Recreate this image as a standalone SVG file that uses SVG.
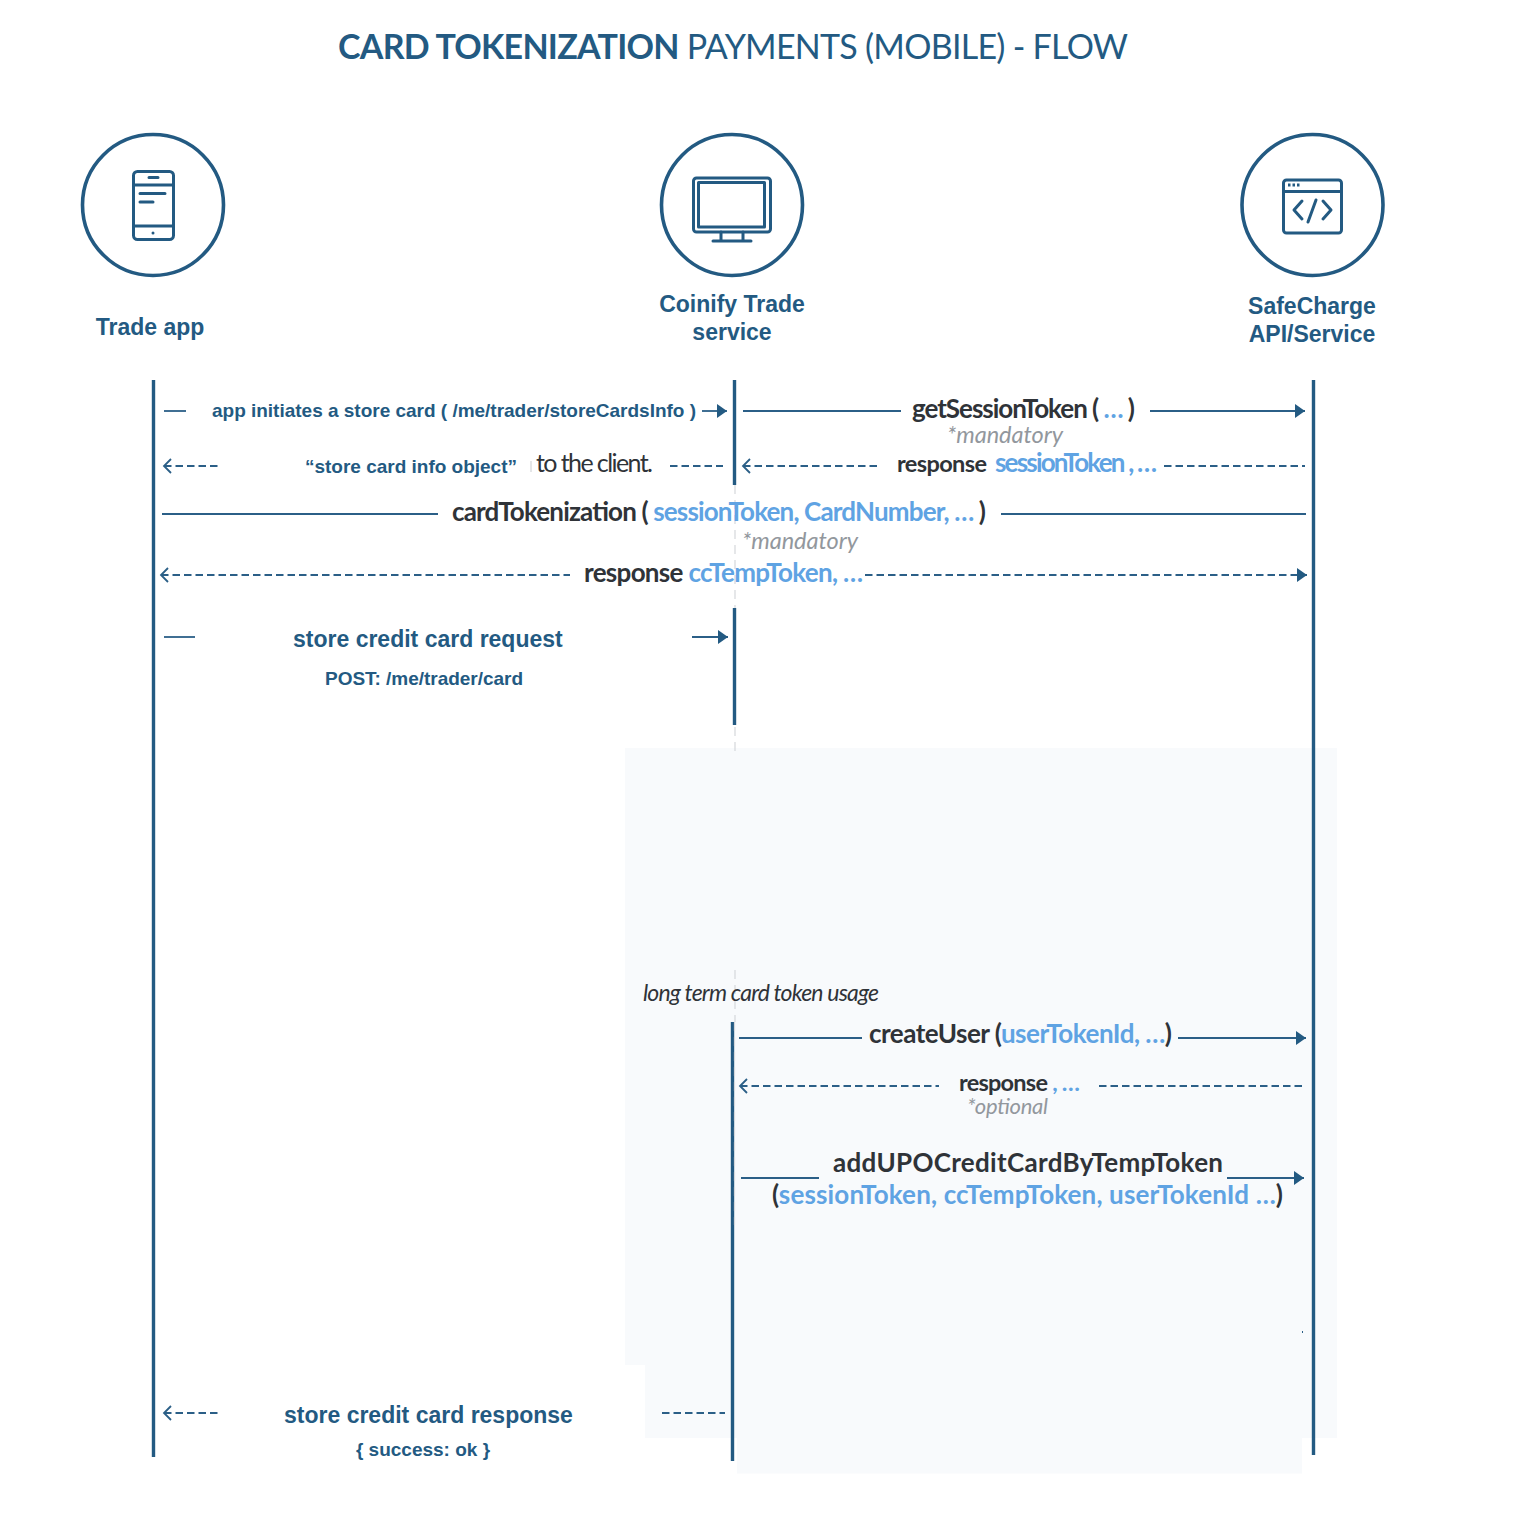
<svg xmlns="http://www.w3.org/2000/svg" width="1534" height="1514" viewBox="0 0 1534 1514">
<style>
.ll{stroke:#235a82;stroke-width:3.4;fill:none}
.gd{stroke:#d5d8db;stroke-width:1.2;stroke-dasharray:9 6;fill:none}
.s{stroke:#2b5f87;stroke-width:1.8;fill:none}
.d{stroke:#2b5f87;stroke-width:1.8;fill:none;stroke-dasharray:7.500 4}
.i{stroke:#235a82;stroke-width:3;fill:none;stroke-linecap:round;stroke-linejoin:round}
.c{stroke:#235a82;stroke-width:3.600;fill:#fff}
.h{font-family:"Liberation Sans",Arial,sans-serif;font-weight:700;fill:#235a82}
.l{font-family:Lato,sans-serif;fill:#2f3338;font-weight:700;font-size:26px}
.b{fill:#5fa3e3}
.m{font-family:Lato,sans-serif;font-style:italic;fill:#92979d;font-size:23.500px}
</style>
<defs>
<marker id="fa" markerUnits="userSpaceOnUse" markerWidth="12" markerHeight="16" refX="10" refY="7" orient="auto"><path d="M0 0L10 7L0 14Z" fill="#235a82"/></marker>
<marker id="oa" markerUnits="userSpaceOnUse" markerWidth="14" markerHeight="18" refX="2" refY="8" orient="auto"><path d="M9 1L2 8L9 15" fill="none" stroke="#2b5f87" stroke-width="1.8"/></marker>
</defs>
<rect width="1534" height="1514" fill="#fff"/>
<g id="background">
<path d="M625 748H1337V1438H1302V1473.500H737V1438H645V1365H625Z" fill="#f8fafc"/>
</g>
<text id="title" x="338" y="59" font-family="Lato,sans-serif" font-size="34" fill="#235a82" textLength="790"><tspan font-weight="700">CARD TOKENIZATION</tspan> PAYMENTS (MOBILE) - FLOW</text>

<g id="node-trade-app">
<circle class="c" cx="153" cy="205" r="70.500"/>
<rect class="i" x="133.500" y="171.500" width="40" height="68" rx="4"/>
<path class="i" d="M134 185H173M134 226H173M149 177.500H158M140 193.500H165M140 202H153"/>
<circle cx="153" cy="233" r="1.500" fill="#235a82"/>
<text class="h" x="150" y="334.500" font-size="23" text-anchor="middle">Trade app</text>
<line class="ll" x1="153.500" y1="380" x2="153.500" y2="1457"/>
</g>
<g id="node-coinify">
<circle class="c" cx="732" cy="205" r="70.500"/>
<rect class="i" x="693.500" y="178" width="77" height="54" rx="3"/>
<rect class="i" x="698.500" y="182.500" width="66" height="44.500"/>
<path class="i" d="M721 232V241M743 232V241M713 241H751"/>
<text class="h" font-size="23" text-anchor="middle"><tspan x="732" y="311.500">Coinify Trade</tspan><tspan x="732" y="339.500">service</tspan></text>
<line class="ll" x1="734.500" y1="380" x2="734.500" y2="485"/>
<line class="ll" x1="734.500" y1="608" x2="734.500" y2="725"/>
<line class="ll" x1="732.500" y1="1022" x2="732.500" y2="1461"/>
<path class="gd" d="M735 485V608M735 727V757M735 970V1022M734.500 1022V1225"/>
</g>
<g id="node-safecharge">
<circle class="c" cx="1312.500" cy="205" r="70.500"/>
<rect class="i" x="1283.500" y="180" width="58" height="53" rx="3"/>
<path class="i" d="M1284 191.500H1341M1302 201L1294 210L1302 219M1323 201L1331 210L1323 219M1316 200L1308 222"/>
<path d="M1288 185h2.500M1292.500 185h2.500M1297 185h2.500" stroke="#235a82" stroke-width="3" fill="none"/>
<text class="h" font-size="23" text-anchor="middle"><tspan x="1312" y="313.500">SafeCharge</tspan><tspan x="1312" y="341.500">API/Service</tspan></text>
<line class="ll" x1="1313.500" y1="380" x2="1313.500" y2="1455"/>
</g>

<g id="connectors">
<line class="s" x1="164" y1="411" x2="186" y2="411"/>
<line class="s" x1="702" y1="411" x2="727" y2="411" marker-end="url(#fa)"/>
<line class="s" x1="743" y1="411" x2="901" y2="411"/>
<line class="s" x1="1150" y1="411" x2="1305" y2="411" marker-end="url(#fa)"/>
<line class="d" x1="164" y1="466" x2="218" y2="466" marker-start="url(#oa)"/>
<line class="d" x1="670" y1="466" x2="723" y2="466"/>
<line class="d" x1="743" y1="466" x2="881" y2="466" marker-start="url(#oa)"/>
<line class="d" x1="1164" y1="466" x2="1305" y2="466"/>
<line class="s" x1="162" y1="514" x2="438" y2="514"/>
<line class="s" x1="1001" y1="514" x2="1306" y2="514"/>
<line class="d" x1="161" y1="575" x2="570" y2="575" marker-start="url(#oa)"/>
<line class="d" x1="865" y1="575" x2="1307" y2="575" marker-end="url(#fa)"/>
<line class="s" x1="164" y1="637" x2="195" y2="637"/>
<line class="s" x1="692" y1="637" x2="728" y2="637" marker-end="url(#fa)"/>
<line class="s" x1="739" y1="1038" x2="862" y2="1038"/>
<line class="s" x1="1178" y1="1038" x2="1306" y2="1038" marker-end="url(#fa)"/>
<line class="d" x1="740" y1="1086" x2="939" y2="1086" marker-start="url(#oa)"/>
<line class="d" x1="1099" y1="1086" x2="1302" y2="1086"/>
<line class="s" x1="741" y1="1178" x2="819" y2="1178"/>
<line class="s" x1="1227" y1="1178" x2="1304" y2="1178" marker-end="url(#fa)"/>
<line class="d" x1="164" y1="1413" x2="218" y2="1413" marker-start="url(#oa)"/>
<line class="d" x1="662" y1="1413" x2="725" y2="1413"/>
<line x1="1302.500" y1="1331" x2="1302.500" y2="1333" stroke="#2b5f87"/>
<line x1="531" y1="461" x2="531" y2="472" stroke="#c9ccd0"/>
</g>

<g id="labels">
<text class="h" x="212" y="417" font-size="19" textLength="484">app initiates a store card ( /me/trader/storeCardsInfo )</text>
<text class="h" x="305" y="473" font-size="19" textLength="212">“store card info object”</text>
<text x="536" y="472" font-family="Lato,sans-serif" font-size="25" fill="#2f3338" textLength="117">to the client.</text>
<text class="l" x="912" y="418" textLength="223">getSessionToken (<tspan class="b"> … </tspan>)</text>
<text class="m" x="947" y="443">*mandatory</text>
<text class="l" x="897" y="472" style="font-size:23.500px" textLength="90">response</text>
<text class="l b" x="995" y="472" textLength="162">sessionToken , …</text>
<text class="l" x="452" y="521" textLength="534">cardTokenization ( <tspan class="b">sessionToken, CardNumber, … </tspan>)</text>
<text class="m" x="742" y="549">*mandatory</text>
<text class="l" x="584" y="582" textLength="279">response <tspan class="b">ccTempToken, …</tspan></text>
<text class="h" x="293" y="646.500" font-size="23">store credit card request</text>
<text class="h" x="325" y="685" font-size="19" textLength="198">POST: /me/trader/card</text>
<text x="643" y="1001" font-family="Lato,sans-serif" font-style="italic" font-size="23" fill="#2f3338" textLength="236">long term card token usage</text>
<text class="l" x="869" y="1043" textLength="303">createUser (<tspan class="b">userTokenId, …</tspan>)</text>
<text class="l" x="959" y="1091" style="font-size:23.500px" textLength="121">response<tspan class="b"> , …</tspan></text>
<text class="m" x="967" y="1114" style="font-size:22px" textLength="81">*optional</text>
<text class="l" x="833" y="1172" textLength="390">addUPOCreditCardByTempToken</text>
<text class="l" x="772" y="1204" textLength="511">(<tspan class="b">sessionToken, ccTempToken, userTokenId …</tspan>)</text>
<text class="h" x="284" y="1422.500" font-size="23">store credit card response</text>
<text class="h" x="423" y="1456" font-size="19" text-anchor="middle">{ success: ok }</text>
</g>
</svg>
